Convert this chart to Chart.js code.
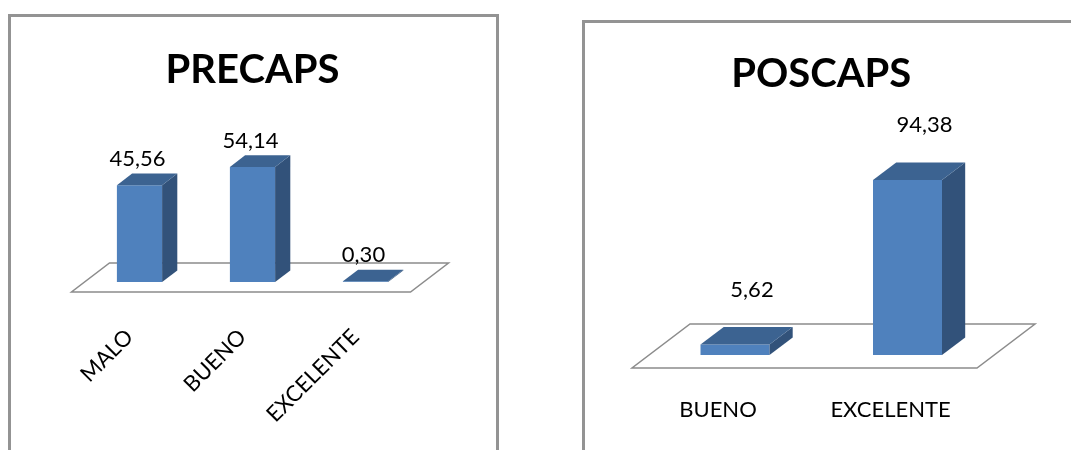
<!DOCTYPE html>
<html>
<head>
<meta charset="utf-8">
<script src="https://cdn.jsdelivr.net/npm/chart.js@4.4.1/dist/chart.umd.min.js"></script>
<style>
  body { margin: 0; background: #fff; width: 1071px; height: 450px; overflow: hidden; position: relative; }
  .frame { position: absolute; box-sizing: border-box; border: 3px solid #939393; height: 520px; }
  canvas { position: absolute; top: 0; }
</style>
</head>
<body>
<div class="frame" style="left:8px; top:14px; width:491px;"></div>
<div class="frame" style="left:582px; top:20px; width:600px;"></div>
<canvas id="pre" width="540" height="450" style="left:0"></canvas>
<canvas id="pos" width="531" height="450" style="left:540px"></canvas>
<script>
const preLabels = ['MALO', 'BUENO', 'EXCELENTE'];
const preValues = [45.56, 54.14, 0.30];

const posLabels = ['BUENO', 'EXCELENTE'];
const posValues = [5.62, 94.38];

// fake 3D: floor plane under the bars, then side + top faces on each bar
const box3d = {
    id: 'box3d',
    beforeDatasetsDraw(chart, args, opts) {
        const { ctx, chartArea: { left, right, bottom } } = chart;
        const [fx, fy] = opts.floorOffset;
        const [dx, dy] = opts.floorDepth;
        ctx.save();
        ctx.beginPath();
        ctx.moveTo(left + fx, bottom + fy);
        ctx.lineTo(right + fx, bottom + fy);
        ctx.lineTo(right + fx + dx, bottom + fy + dy);
        ctx.lineTo(left + fx + dx, bottom + fy + dy);
        ctx.closePath();
        ctx.fillStyle = '#ffffff';
        ctx.fill();
        ctx.strokeStyle = '#8c8c8c';
        ctx.lineWidth = 1.5;
        ctx.stroke();
        ctx.restore();
    },
    afterDatasetsDraw(chart, args, opts) {
        const { ctx } = chart;
        const bx = opts.floorDepth[0] * 0.4;
        const by = opts.floorDepth[1] * 0.4;
        const values = chart.data.datasets[0].data;
        ctx.save();
        chart.getDatasetMeta(0).data.forEach((bar, i) => {
            const { x, y, base, width } = bar.getProps(['x', 'y', 'base', 'width'], true);
            const l = x - width / 2;
            const r = x + width / 2;

            ctx.fillStyle = opts.sideColor;
            ctx.beginPath();
            ctx.moveTo(r, y);
            ctx.lineTo(r + bx, y + by);
            ctx.lineTo(r + bx, base + by);
            ctx.lineTo(r, base);
            ctx.closePath();
            ctx.fill();

            ctx.fillStyle = opts.topColor;
            ctx.beginPath();
            ctx.moveTo(l, y);
            ctx.lineTo(l + bx, y + by);
            ctx.lineTo(r + bx, y + by);
            ctx.lineTo(r, y);
            ctx.closePath();
            ctx.fill();

            // value label, decimal comma
            ctx.fillStyle = '#000';
            ctx.font = '22px Lato';
            ctx.textAlign = 'center';
            ctx.textBaseline = 'middle';
            ctx.fillText(values[i].toFixed(2).replace('.', ','), x + opts.labelShift[0], y + opts.labelShift[1]);
        });
        ctx.restore();
    }
};

function makeChart(id, labels, values, o) {
    return new Chart(document.getElementById(id), {
        type: 'bar',
        data: {
            labels: labels,
            datasets: [{
                data: values,
                backgroundColor: '#4f81bd',
                borderWidth: 0,
                barPercentage: 0.4,
                categoryPercentage: 1,
            }],
        },
        options: {
            responsive: false,
            animation: false,
            layout: { padding: { left: o.padLeft, right: o.padRight, top: 0, bottom: 0 } },
            plugins: {
                legend: { display: false },
                tooltip: { enabled: false },
                title: {
                    display: true,
                    text: o.title,
                    color: '#000',
                    font: { family: 'Lato', size: 40, weight: 'bold' },
                    padding: { top: o.titleTop, bottom: o.titleBottom },
                },
                box3d: {
                    floorOffset: o.floorOffset,
                    floorDepth: o.floorDepth,
                    labelShift: o.labelShift,
                    sideColor: '#32527a',
                    topColor: '#3c6391',
                },
            },
            scales: {
                x: {
                    grid: { display: false, drawTicks: false },
                    border: { display: false },
                    ticks: {
                        color: '#000',
                        font: { family: 'Lato', size: 22 },
                        padding: o.tickPad,
                        labelOffset: o.labelOffset,
                        minRotation: o.rotation,
                        maxRotation: o.rotation,
                        autoSkip: false,
                    },
                    afterFit: scale => { scale.height = o.axisHeight; },
                },
                y: { display: false, min: 0, max: o.yMax },
            },
        },
        plugins: [box3d],
    });
}

makeChart('pre', preLabels, preValues, {
    title: 'PRECAPS',
    padLeft: 83, padRight: 118,
    titleTop: 46, titleBottom: 60.5,
    axisHeight: 168, yMax: 60,
    tickPad: 42, labelOffset: -10, rotation: 45,
    floorOffset: [-11.5, 10], floorDepth: [38, -29],
    labelShift: [-2, -26],
});

makeChart('pos', posLabels, posValues, {
    title: 'POSCAPS',
    padLeft: 108.75, padRight: 77.25,
    titleTop: 50, titleBottom: 71.6,
    axisHeight: 95, yMax: 100,
    tickPad: 42, labelOffset: -17, rotation: 0,
    floorOffset: [-16.75, 13], floorDepth: [58, -44],
    labelShift: [17, -55],
});
</script>
</body>
</html>
